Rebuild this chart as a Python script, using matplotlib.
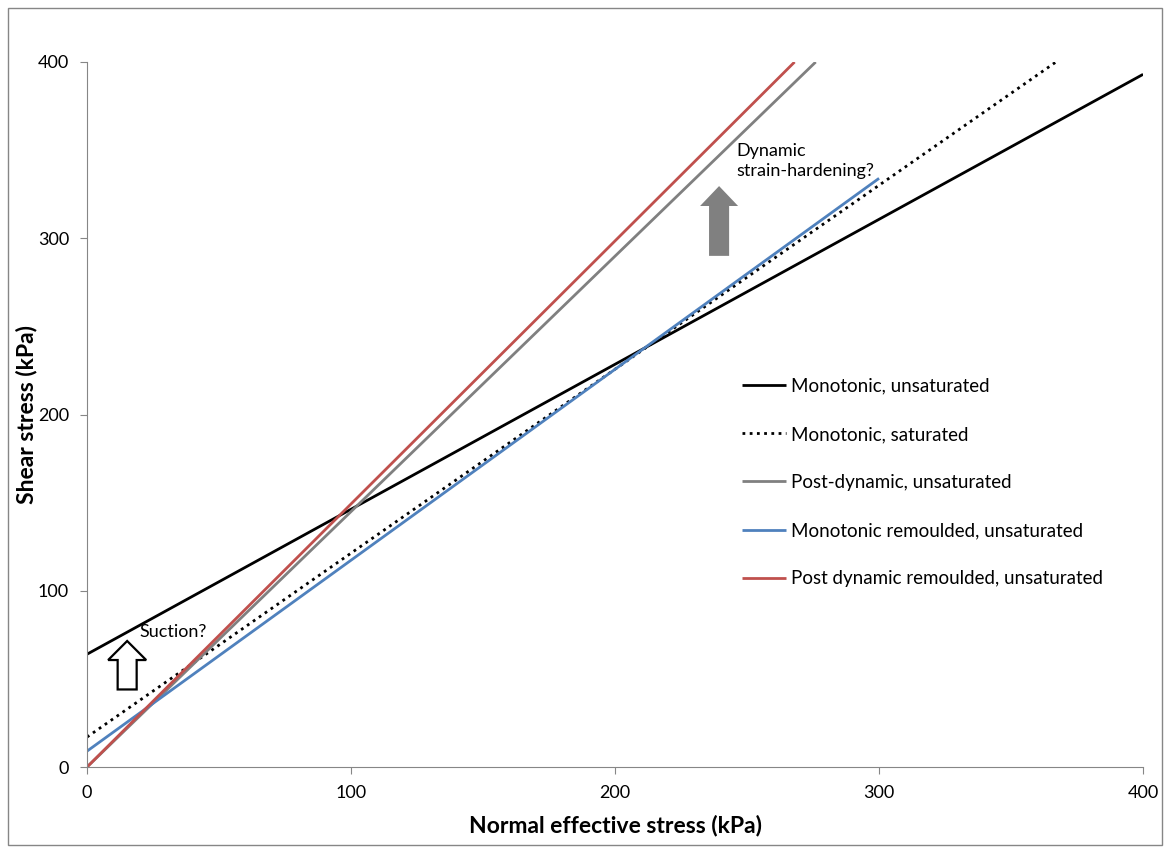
import matplotlib.pyplot as plt
from matplotlib.patches import FancyArrow, Rectangle

plt.rcParams['font.family'] = ['Lato', 'DejaVu Sans']

# failure envelopes, read as straight lines between two points
labels = ['Monotonic, unsaturated', 'Monotonic, saturated',
          'Post-dynamic, unsaturated', 'Monotonic remoulded, unsaturated',
          'Post dynamic remoulded, unsaturated']
x_start = [0, 0, 0, 0, 0]
y_start = [64, 17, 0, 9, 0]
x_end = [400, 367, 276, 300, 268]
y_end = [393, 400, 400, 334, 400]

colors = ['black', 'black', '#808080', '#4f81bd', '#c0504d']
styles = ['-', (0, (1, 1.6)), '-', '-', '-']

ticks = [0, 100, 200, 300, 400]

fig = plt.figure(figsize=(11.65, 8.48), dpi=100)
ax = fig.add_axes([0.0747, 0.0955, 0.9065, 0.8314])

for i in range(len(labels)):
    ax.plot([x_start[i], x_end[i]], [y_start[i], y_end[i]], color=colors[i],
            linestyle=styles[i], lw=2.0, label=labels[i], solid_capstyle='butt')

# arrows
ax.add_patch(FancyArrow(15.2, 44, 0, 27.5, width=7.2, head_width=14.4,
                        head_length=10.8, length_includes_head=True,
                        facecolor='white', edgecolor='black', lw=1.6, zorder=5))
ax.add_patch(FancyArrow(239.4, 290, 0, 39.6, width=7.6, head_width=14.4,
                        head_length=11.3, length_includes_head=True,
                        facecolor='#808080', edgecolor='none', zorder=5))

ax.text(20, 76.5, 'Suction?', fontsize=13, va='center', ha='left')
ax.text(246, 344, 'Dynamic\nstrain-hardening?', fontsize=13, va='center',
        ha='left', linespacing=1.3)

ax.set_xlim(0, 400)
ax.set_ylim(0, 400)
ax.set_xticks(ticks)
ax.set_yticks(ticks)
ax.tick_params(labelsize=13, length=5, color='#868686', pad=8)
for s in ['top', 'right']:
    ax.spines[s].set_visible(False)
for s in ['left', 'bottom']:
    ax.spines[s].set_color('#868686')

ax.set_xlabel('Normal effective stress (kPa)', fontsize=16.5, fontweight='bold', labelpad=10)
ax.set_ylabel('Shear stress (kPa)', fontsize=16.5, fontweight='bold')
ax.yaxis.set_label_coords(-0.047, 0.5)

ax.legend(loc='upper left', bbox_to_anchor=(0.604, 0.576), frameon=False,
          fontsize=13.5, handlelength=2.35, handletextpad=0.3, labelspacing=1.66)

fig.patches.append(Rectangle((0.007, 0.004), 0.99, 0.987, transform=fig.transFigure,
                             fill=False, edgecolor='#868686', lw=1))

fig.savefig('out.png', dpi=100)
